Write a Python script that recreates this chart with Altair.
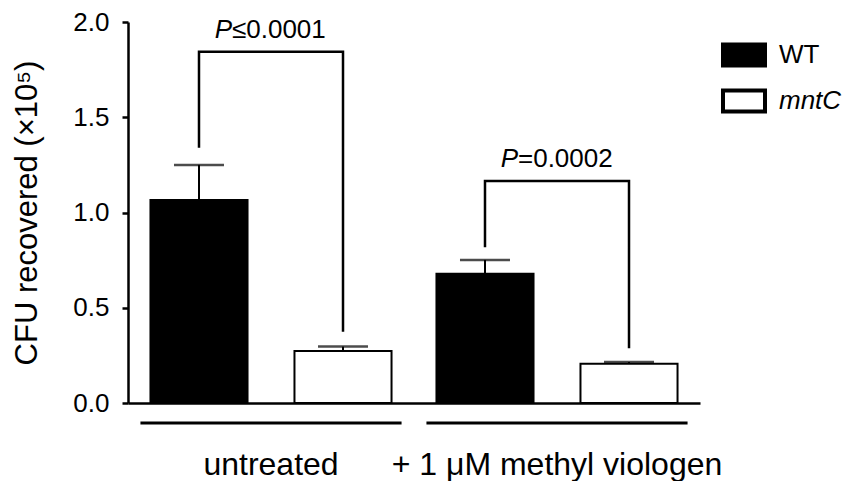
import altair as alt
import pandas as pd

groups = ["untreated", "+ 1 μM methyl viologen"]
strains = ["WT", "mntC"]
bar_group = ["untreated", "untreated", "+ 1 μM methyl viologen", "+ 1 μM methyl viologen"]
bar_strain = ["WT", "mntC", "WT", "mntC"]
means = [1.066, 0.273, 0.678, 0.206]
upper = [1.250, 0.296, 0.751, 0.215]

# significance brackets: WT leg bottom, bracket top, mntC leg bottom
br_left = [1.340, 0.817]
br_top = [1.844, 1.165]
br_right = [0.374, 0.287]
p_sym = ["≤0.0001", "=0.0002"]

FONT = "Liberation Sans"

bars = pd.DataFrame({"group": bar_group, "strain": bar_strain, "mean": means, "upper": upper})

rows = []
for i, g in enumerate(groups):
    rows += [
        {"group": g, "strain": "WT", "v": br_left[i], "seq": 0},
        {"group": g, "strain": "WT", "v": br_top[i], "seq": 1},
        {"group": g, "strain": "mntC", "v": br_top[i], "seq": 2},
        {"group": g, "strain": "mntC", "v": br_right[i], "seq": 3},
    ]
brackets = pd.DataFrame(rows)
plabels = pd.DataFrame({"group": groups, "top": br_top, "rest": p_sym})
glines = pd.DataFrame({"group": groups})

xenc = alt.X("group:N", sort=groups, title=None,
             scale=alt.Scale(paddingInner=0, paddingOuter=0),
             axis=alt.Axis(ticks=False, tickSize=0, labelPadding=46, labelFontSize=32,
                           labelFont=FONT, labelColor="black", labelAngle=0, labelLimit=0,
                           domainColor="black", domainWidth=2.5, grid=False))
xoff = alt.XOffset("strain:N", sort=strains,
                   scale=alt.Scale(paddingInner=0.326, paddingOuter=0.156))
yscale = alt.Scale(domain=[0, 2])
yenc = alt.Y("mean:Q", scale=yscale, title="CFU recovered (×10⁵)",
             axis=alt.Axis(values=[0, 0.5, 1.0, 1.5, 2.0], format=".1f", grid=False,
                           tickSize=6, tickWidth=2.5, tickColor="black",
                           domainColor="black", domainWidth=2.5,
                           labelFontSize=26, labelFont=FONT, labelColor="black", labelPadding=13,
                           titleFontSize=31, titleFont=FONT, titleFontWeight="normal",
                           titleColor="black", titlePadding=29))

bar_layer = alt.Chart(bars).mark_bar(stroke="black", strokeWidth=2).encode(
    x=xenc, xOffset=xoff, y=yenc,
    fill=alt.Fill("strain:N", sort=strains,
                  scale=alt.Scale(domain=strains, range=["black", "white"]),
                  legend=alt.Legend(title=None, orient="none", legendX=593, legendY=10,
                                    symbolType="M-1,-0.5H1V0.5H-1Z", symbolSize=1764,
                                    symbolStrokeColor="black", symbolStrokeWidth=4,
                                    labelFontSize=26, labelFont=FONT, labelColor="black",
                                    labelOffset=12, rowPadding=4, padding=0,
                                    labelFontStyle={"expr": "datum.label == 'mntC' ? 'italic' : 'normal'"})),
)

err_layer = alt.Chart(bars).mark_rule(color="black", strokeWidth=2).encode(
    x=alt.X("group:N", sort=groups), xOffset=alt.XOffset("strain:N", sort=strains),
    y=alt.Y("mean:Q", scale=yscale), y2="upper:Q",
)
cap_layer = alt.Chart(bars).mark_tick(color="black", thickness=2.5, size=50).encode(
    x=alt.X("group:N", sort=groups), xOffset=alt.XOffset("strain:N", sort=strains),
    y=alt.Y("upper:Q", scale=yscale),
)
bracket_layer = alt.Chart(brackets).mark_line(color="black", strokeWidth=2.5).encode(
    x=alt.X("group:N", sort=groups), xOffset=alt.XOffset("strain:N", sort=strains),
    y=alt.Y("v:Q", scale=yscale), detail="group:N", order="seq:Q",
)
p_layer = alt.Chart(plabels).mark_text(align="right", baseline="alphabetic", dx=-39, dy=-14,
                                       fontStyle="italic", fontSize=26, font=FONT, color="black",
                                       text="P").encode(
    x=alt.X("group:N", sort=groups), y=alt.Y("top:Q", scale=yscale),
)
rest_layer = alt.Chart(plabels).mark_text(align="left", baseline="alphabetic", dx=-39, dy=-14,
                                          fontSize=26, font=FONT, color="black").encode(
    x=alt.X("group:N", sort=groups), y=alt.Y("top:Q", scale=yscale), text="rest:N",
)
gline_layer = alt.Chart(glines).mark_bar(color="black", width=alt.RelativeBandSize(0.913)).encode(
    x=alt.X("group:N", sort=groups), y=alt.value(399.5), y2=alt.value(402.5),
)

chart = alt.layer(bar_layer, err_layer, cap_layer, bracket_layer, p_layer, rest_layer,
                  gline_layer).properties(
    width=572, height=381,
    autosize=alt.AutoSizeParams(type="none"),
    padding={"left": 128, "top": 22, "right": 165, "bottom": 78},
    background="white",
).configure_view(stroke="white", strokeWidth=4).configure_axis(grid=False)

chart.save("out.html", embed_options={"renderer": "svg", "actions": False})
